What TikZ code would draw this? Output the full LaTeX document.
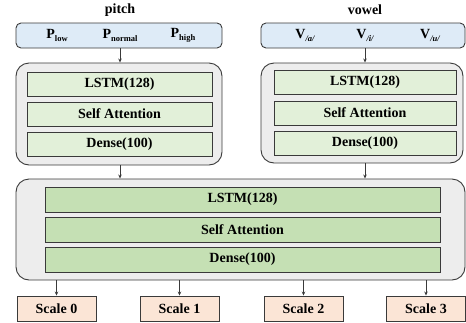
\documentclass[tikz,border=0pt]{standalone}
\usepackage{fontspec}
\setmainfont{Liberation Serif}
\usetikzlibrary{arrows.meta}
\definecolor{inblue}{HTML}{DEEBF7}
\definecolor{grayfill}{HTML}{EDEDED}
\definecolor{lgreen}{HTML}{E2F0D9}
\definecolor{dgreen}{HTML}{C5E0B4}
\definecolor{peach}{HTML}{FBE5D6}
\definecolor{edge}{HTML}{3A3A3A}
\tikzset{
  lbl/.style={font=\fontsize{14}{16}\selectfont\bfseries, inner sep=0pt},
  inbox/.style={draw=edge, line width=0.9pt, fill=inblue, rounded corners=5pt, inner sep=0pt, font=\fontsize{14}{16}\selectfont\bfseries},
  groupbox/.style={draw=edge, line width=0.9pt, fill=grayfill, rounded corners=13pt, inner sep=0pt},
  layerS/.style={draw=edge, line width=0.9pt, fill=lgreen, inner sep=0pt, minimum height=24pt, font=\fontsize{14}{16}\selectfont\bfseries},
  layerB/.style={draw=edge, line width=0.9pt, fill=dgreen, inner sep=0pt, minimum width=395pt, minimum height=25pt, font=\fontsize{14}{16}\selectfont\bfseries},
  scalebox/.style={draw=edge, line width=0.9pt, fill=peach, inner sep=0pt, minimum width=79pt, minimum height=25pt, font=\fontsize{14}{16}\selectfont\bfseries},
  conn/.style={draw=edge, line width=0.8pt, -{Stealth[length=4pt,width=3.5pt]}},
  sub/.style={font=\fontsize{9}{10}\selectfont\bfseries}
}
\newcommand{\subb}[1]{\raisebox{-3pt}{\fontsize{8.5}{10}\selectfont\bfseries #1}}
\newcommand{\subi}[1]{\raisebox{-3pt}{\fontsize{8.5}{10}\selectfont\bfseries\itshape #1}}
\begin{document}
\begin{tikzpicture}[x=1pt,y=-1pt]
\useasboundingbox (0,0) rectangle (466,322);
% labels
\node[lbl] (pitchlbl) at (120,10) {pitch};
\node[lbl] (vowellbl) at (365,10) {vowel};
% input boxes
\node[inbox, minimum width=206pt, minimum height=25pt] (pin) at (119,35.5) {};
\node[lbl] (plow) at (57,35.5) {P\subb{low}};
\node[lbl] (pnorm) at (120,35.5) {P\subb{normal}};
\node[lbl] (phigh) at (183,35.5) {P\subb{high}};
\node[inbox, minimum width=204pt, minimum height=25pt] (vin) at (363,35.5) {};
\node[lbl] (va) at (305,35.5) {V\subi{/a/}};
\node[lbl] (vi) at (365,35.5) {V\subi{/i/}};
\node[lbl] (vu) at (430,35.5) {V\subi{/u/}};
% left group
\node[groupbox, minimum width=206pt, minimum height=102pt] (lg) at (119,114) {};
\node[layerS, minimum width=185pt] (l1) at (119.5,84) {LSTM(128)};
\node[layerS, minimum width=185pt] (l2) at (119.5,114) {Self Attention};
\node[layerS, minimum width=185pt] (l3) at (119.5,144) {Dense(100)};
% right group
\node[groupbox, minimum width=202pt, minimum height=100pt] (rg) at (362,113) {};
\node[layerS, minimum width=182pt] (r1) at (365,82) {LSTM(128)};
\node[layerS, minimum width=182pt] (r2) at (365,113) {Self Attention};
\node[layerS, minimum width=182pt] (r3) at (365,143) {Dense(100)};
% big group
\node[groupbox, minimum width=449pt, minimum height=101pt] (big) at (240.5,229.5) {};
\node[layerB] (b1) at (242.5,199.5) {LSTM(128)};
\node[layerB] (b2) at (242.5,229.5) {Self Attention};
\node[layerB] (b3) at (242.5,259.5) {Dense(100)};
% scales
\node[scalebox] (s0) at (56.5,308.5) {Scale 0};
\node[scalebox] (s1) at (179.5,308.5) {Scale 1};
\node[scalebox] (s2) at (303.5,308.5) {Scale 2};
\node[scalebox] (s3) at (426,308.5) {Scale 3};
% connectors
\coordinate (pa) at (120,0);
\coordinate (va0) at (365,0);
\draw[conn] (pa |- pin.south) -- (pa |- lg.north);
\draw[conn] (va0 |- vin.south) -- (va0 |- rg.north);
\draw[conn] (pa |- lg.south) -- (pa |- big.north);
\draw[conn] (va0 |- rg.south) -- (va0 |- big.north);
\draw[conn] (s0.north |- big.south) -- (s0.north);
\draw[conn] (s1.north |- big.south) -- (s1.north);
\draw[conn] (s2.north |- big.south) -- (s2.north);
\draw[conn] (s3.north |- big.south) -- (s3.north);
\end{tikzpicture}
\end{document}
